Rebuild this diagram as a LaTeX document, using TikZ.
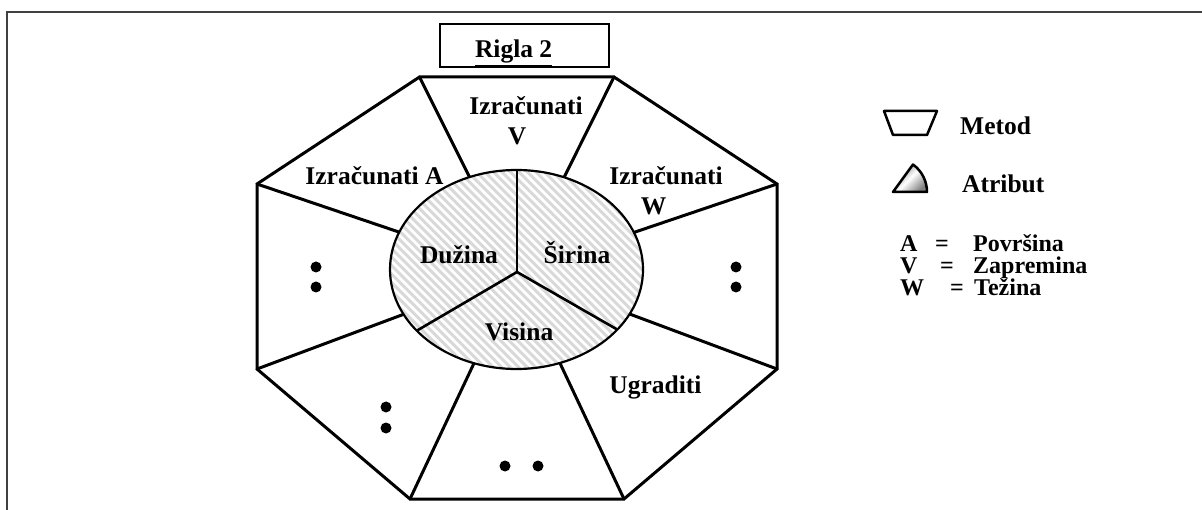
\documentclass[tikz,border=0pt]{standalone}
\usepackage{fontspec}
\setmainfont{Liberation Serif}
\usetikzlibrary{calc}
\begin{document}
\begin{tikzpicture}[x=1pt,y=-1pt,
  lbl/.style={font=\fontsize{25.5}{30}\selectfont\bfseries, inner sep=0pt, anchor=base},
  lbll/.style={lbl, anchor=base west},
  leg/.style={font=\fontsize{24}{26}\selectfont\bfseries, inner sep=0pt, anchor=base, text height=15pt, text depth=4pt},
  legl/.style={leg, anchor=base west},
  thick line/.style={line width=3pt, line join=round, line cap=round},
  stripe/.style={line width=3pt, black!15},
  dotf/.style={fill=black}]
\useasboundingbox (0,0) rectangle (1202,510);
% outer frame (only left and top visible)
\draw[line width=1.6pt, black!75] (7,510) -- (7,12) -- (1202,12);

% title box
\draw[line width=2pt] (439.5,24) rectangle (608.5,67);
\node[lbl] (title) at (513.6,58) {\underline{Rigla 2}};

% octagon vertices
\coordinate (TL) at (419.5,77);
\coordinate (TR) at (614,77);
\coordinate (RU) at (777,184);
\coordinate (RL) at (777,369);
\coordinate (BR) at (624,499);
\coordinate (BL) at (410,499);
\coordinate (LL) at (257,369);
\coordinate (LU) at (257,184);
\coordinate (C) at (517,272);

% spokes
\foreach \v in {TL,TR,RU,RL,BR,BL,LL,LU}
  \draw[thick line] (\v) -- (C);

% ellipse with hatching
\fill[white] (516.5,269.5) ellipse [x radius=126.5, y radius=99.5];
\begin{scope}
  \clip (516.5,269.5) ellipse [x radius=126.5, y radius=99.5];
  \foreach \i in {150,158.5,...,680}
    \draw[stripe] (\i,160) -- ++(230,230);
  \draw[line width=2.6pt] (C) -- (517,150);
  \draw[line width=2.6pt] (C) -- ($(C)!2!(418,330)$);
  \draw[line width=2.6pt] (C) -- ($(C)!2!(618,330)$);
\end{scope}
\draw[line width=2.2pt] (516.5,269.5) ellipse [x radius=126.5, y radius=99.5];

% octagon outline
\draw[thick line, line join=miter] (TL) -- (TR) -- (RU) -- (RL) -- (BR) -- (BL) -- (LL) -- (LU) -- cycle;

% labels
\node[lbl] (izv) at (526,115) {Izračunati};
\node[lbl] (v) at (517,145) {V};
\node[lbl] (iza) at (374.5,185) {Izračunati A};
\node[lbl] (izw) at (666,185) {Izračunati};
\node[lbl] (w) at (653.5,215) {W};
\node[lbl] (duz) at (459,264) {Dužina};
\node[lbl] (sir) at (577,264) {Širina};
\node[lbl] (vis) at (519,341) {Visina};
\node[lbl] (ugr) at (655.5,393) {Ugraditi};

% dots
\fill[dotf] (316,267) circle (5.5);
\fill[dotf] (316,287) circle (5.5);
\fill[dotf] (736,267) circle (5.5);
\fill[dotf] (736,287) circle (5.5);
\fill[dotf] (386,407) circle (5.5);
\fill[dotf] (386,428) circle (5.5);
\fill[dotf] (505,466) circle (5.5);
\fill[dotf] (538,466) circle (5.5);

% legend
\draw[line width=2.5pt, line join=round] (884,111) -- (937,111) -- (927,135) -- (893,135) -- cycle;
\node[lbll] (metod) at (960,135) {Metod};
\shade[left color=black!50, right color=black!50, middle color=white, shading angle=45]
  (893,192) -- (927,192) arc[start angle=0, end angle=-54, radius=34] -- cycle;
\draw[line width=2.5pt, line join=round]
  (893,192) -- (927,192) arc[start angle=0, end angle=-54, radius=34] -- cycle;
\node[lbll] (atr) at (962,193) {Atribut};

\node[legl] (la) at (900,252) {A};
\node[leg] (ea) at (942,252) {=};
\node[legl] (pa) at (973,252) {Površina};
\node[legl] (lv) at (900,274) {V};
\node[leg] (ev) at (947,274) {=};
\node[legl] (pv) at (973,274) {Zapremina};
\node[legl] (lw) at (900,296) {W};
\node[leg] (ew) at (957,296) {=};
\node[legl] (pw) at (974,296) {Težina};
\end{tikzpicture}
\end{document}
